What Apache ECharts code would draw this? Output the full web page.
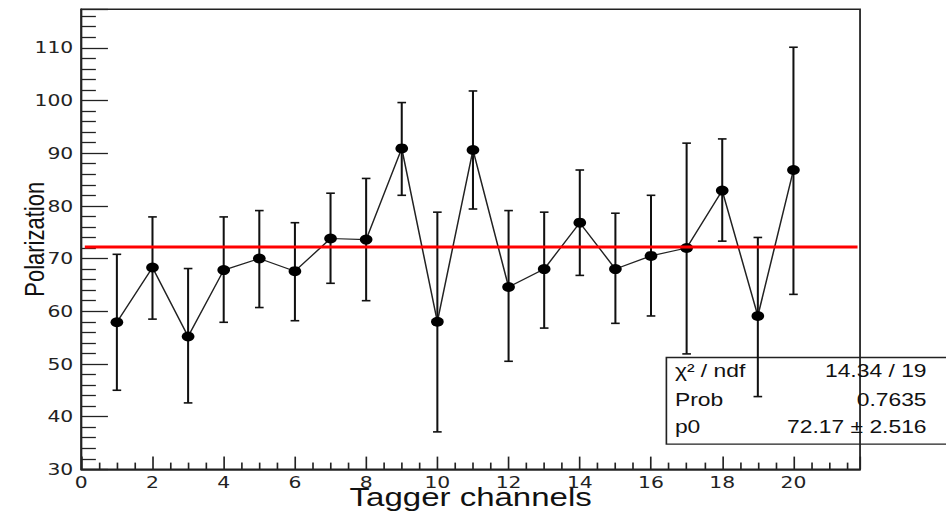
<!DOCTYPE html>
<html>
<head>
<meta charset="utf-8">
<script src="https://cdn.jsdelivr.net/npm/echarts@6/dist/echarts.min.js"></script>
<style>
  html, body { margin: 0; padding: 0; background: #fff; overflow: hidden; }
  /* the reference is a horizontally stretched ROOT canvas: draw at 745px and stretch to 946px */
  #chart { width: 745px; height: 513px; transform: scaleX(1.2698); transform-origin: 0 0; }
</style>
</head>
<body>
<div id="chart"></div>
<script>
// ---- data ----
const channels = [1, 2, 3, 4, 5, 6, 7, 8, 9, 10, 11, 12, 13, 14, 15, 16, 17, 18, 19, 20];
const polarization = [57.9, 68.3, 55.2, 67.8, 70.0, 67.6, 73.8, 73.6, 90.9, 58.0, 90.6, 64.6, 68.0, 76.8, 68.0, 70.5, 72.0, 82.9, 59.1, 86.8];
const errUpper = [70.8, 77.9, 68.1, 77.9, 79.1, 76.8, 82.4, 85.2, 99.6, 78.8, 101.8, 79.1, 78.8, 86.8, 78.6, 82.0, 91.9, 92.7, 74.0, 110.1];
const errLower = [45.0, 58.5, 42.6, 57.9, 60.7, 58.2, 65.3, 62.0, 82.0, 37.1, 79.4, 50.5, 56.8, 66.8, 57.7, 59.1, 51.9, 73.3, 43.8, 63.2];
const fitX = [0.1, 21.8];
const fitValue = 72.17;
const xTitle = 'Tagger channels';
const yTitle = 'Polarization';
const statsLabels = ['χ² / ndf', 'Prob', 'p0'];
const statsValues = ['14.34 / 19', '0.7635', '72.17 ± 2.516'];

const chart = echarts.init(document.getElementById('chart'), null, { renderer: 'svg' });

const points = channels.map((c, i) => [c, polarization[i]]);
const bars = channels.map((c, i) => [c, errLower[i], errUpper[i]]);
const fitLine = fitX.map(x => [x, fitValue]);

const barStyle = { stroke: '#111', lineWidth: 1.6 };
function renderErr(params, api) {
  const x = api.value(0);
  const lo = api.coord([x, api.value(1)]);
  const hi = api.coord([x, api.value(2)]);
  const hw = 3.4;
  return {
    type: 'group',
    children: [
      { type: 'line', shape: { x1: hi[0], y1: hi[1], x2: lo[0], y2: lo[1] }, style: barStyle },
      { type: 'line', shape: { x1: hi[0] - hw, y1: hi[1], x2: hi[0] + hw, y2: hi[1] }, style: barStyle },
      { type: 'line', shape: { x1: lo[0] - hw, y1: lo[1], x2: lo[0] + hw, y2: lo[1] }, style: barStyle }
    ]
  };
}

const statsRowsY = [370, 399.3, 426.7];
const statsGraphics = [
  { type: 'rect', left: 522.3, top: 355, z: 1,
    shape: { width: 221.2, height: 86.7 },
    style: { fill: 'none', stroke: '#222', lineWidth: 1.3 } }
];
statsLabels.forEach((t, i) => {
  statsGraphics.push({ type: 'text', x: 531.5, y: statsRowsY[i], z: 2,
    style: { text: t, font: '18px "Liberation Sans", Arial, sans-serif', fill: '#111',
             textAlign: 'left', textVerticalAlign: 'middle' } });
  statsGraphics.push({ type: 'text', x: 729.7, y: statsRowsY[i], z: 2,
    style: { text: statsValues[i], font: '18px "Liberation Sans", Arial, sans-serif', fill: '#111',
             textAlign: 'right', textVerticalAlign: 'middle' } });
});

chart.setOption({
  animation: false,
  backgroundColor: '#fff',
  grid: { left: 64, right: 67.7, top: 9.3, bottom: 43.7, show: true, containLabel: false,
          outerBoundsMode: 'none',
          borderColor: '#222', borderWidth: 1.4, backgroundColor: 'transparent' },
  xAxis: {
    type: 'value', min: 0, max: 21.87, interval: 2,
    name: xTitle, nameLocation: 'middle', nameGap: 15, nameMoveOverlap: false,
    nameTextStyle: { fontFamily: 'Liberation Sans', fontSize: 26, color: '#111' },
    axisLine: { show: true, lineStyle: { color: '#222', width: 1.5 } },
    axisTick: { show: true, inside: true, length: 12.7, lineStyle: { color: '#222', width: 1.3 } },
    minorTick: { show: true, splitNumber: 4, length: 6.7, lineStyle: { color: '#222', width: 1.3 } },
    axisLabel: { show: true, margin: 5.5, showMaxLabel: false, fontFamily: 'DejaVu Sans', fontSize: 16, color: '#222' },
    splitLine: { show: false }
  },
  yAxis: {
    type: 'value', min: 30, max: 117.3, interval: 10,
    name: yTitle, nameLocation: 'middle', nameGap: 26, nameMoveOverlap: false,
    nameTextStyle: { fontFamily: 'Liberation Sans', fontSize: 22, color: '#111' },
    axisLine: { show: true, lineStyle: { color: '#222', width: 1.5 } },
    axisTick: { show: true, inside: true, length: 21, lineStyle: { color: '#222', width: 1.3 } },
    minorTick: { show: true, splitNumber: 5, length: 11.5, lineStyle: { color: '#222', width: 1.3 } },
    axisLabel: { show: true, margin: 6.3, showMaxLabel: false, fontFamily: 'DejaVu Sans', fontSize: 16, color: '#222' },
    splitLine: { show: false }
  },
  graphic: statsGraphics,
  series: [
    { type: 'custom', name: 'errors', data: bars, renderItem: renderErr, z: 3,
      encode: { x: 0, y: [1, 2] }, silent: true },
    { type: 'line', name: 'data', data: points, z: 4,
      symbol: 'circle', symbolSize: 10, showSymbol: true,
      lineStyle: { color: '#222', width: 1.2 },
      itemStyle: { color: '#000' } },
    { type: 'line', name: 'fit', data: fitLine, z: 5, symbol: 'none',
      lineStyle: { color: '#ff0000', width: 3 } }
  ]
});
</script>
</body>
</html>
